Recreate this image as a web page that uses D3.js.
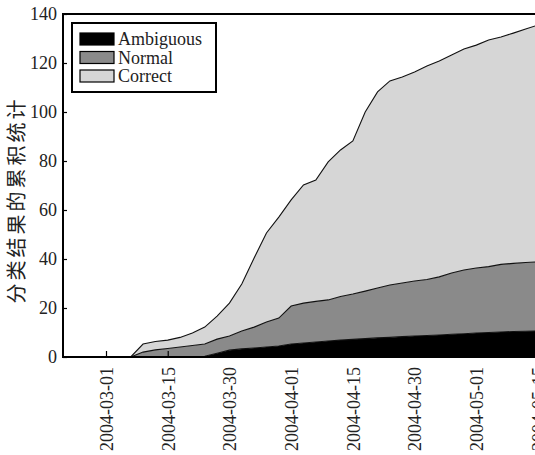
<!DOCTYPE html>
<html>
<head>
<meta charset="utf-8">
<script src="https://cdn.jsdelivr.net/npm/d3@7"></script>
<style>
  body { margin: 0; background: #fff; }
  svg { display: block; }
</style>
</head>
<body>
<svg id="chart" width="535" height="455"></svg>
<script>
// Tick labels along the sample axis (one every five samples)
const tickLabels = ["2004-03-01", "2004-03-15", "2004-03-30", "2004-04-01",
                    "2004-04-15", "2004-04-30", "2004-05-01", "2004-05-15"];
const tickStep = 5;
const yTicks = [0, 20, 40, 60, 80, 100, 120, 140];

// Sample positions (index along the time axis)
const sampleIndex = d3.range(2, 36);

// Cumulative counts per classification result
const ambiguous = [0, 0, 0, 0, 0, 0, 0.3, 1.5, 2.8, 3.3, 3.7, 4.1, 4.5, 5.3, 5.7, 6.1, 6.5,
                   6.9, 7.2, 7.5, 7.8, 8.0, 8.3, 8.6, 8.8, 9.0, 9.3, 9.5, 9.8, 10.0, 10.2,
                   10.4, 10.5, 10.6];
const normal = [0, 2.0, 2.9, 3.5, 4.1, 4.7, 5.0, 5.8, 5.8, 7.3, 8.5, 10.2, 11.4, 15.5, 16.3,
                16.6, 16.8, 17.8, 18.5, 19.4, 20.4, 21.4, 21.9, 22.4, 22.8, 23.7, 25.0, 26.0,
                26.5, 26.9, 27.6, 27.8, 28.1, 28.2];
const correct = [0, 3.3, 3.4, 3.4, 3.9, 5.1, 6.9, 9.4, 13.4, 19.2, 28.2, 36.3, 41.2, 43.3,
                 48.2, 49.5, 56.3, 59.8, 62.5, 73.1, 80.0, 83.3, 84.1, 85.3, 87.2, 88.1, 89.0,
                 90.2, 91.0, 92.5, 92.8, 94.0, 95.3, 96.7];

const seriesNames = ["Ambiguous", "Normal", "Correct"];
const seriesColors = ["#000000", "#8a8a8a", "#d6d6d6"];

const rows = sampleIndex.map((idx, k) => ({
  idx,
  Ambiguous: ambiguous[k],
  Normal: normal[k],
  Correct: correct[k]
}));

const svg = d3.select("#chart");
const plot = { left: 63, top: 14, right: 540, bottom: 357 };

const x = d3.scaleLinear()
  .domain([0, (tickLabels.length - 1) * tickStep])
  .range([106, 538]);
const y = d3.scaleLinear().domain([0, 140]).range([plot.bottom, plot.top]);

svg.append("defs").append("clipPath").attr("id", "plotClip")
  .append("rect")
  .attr("x", plot.left).attr("y", plot.top)
  .attr("width", plot.right - plot.left).attr("height", plot.bottom - plot.top);

const stacked = d3.stack().keys(seriesNames)(rows);

const area = d3.area()
  .x(d => x(d.data.idx))
  .y0(d => y(d[0]))
  .y1(d => y(d[1]));
const topLine = d3.line()
  .x(d => x(d.data.idx))
  .y(d => y(d[1]));

const g = svg.append("g").attr("clip-path", "url(#plotClip)");
g.selectAll("path.area")
  .data(stacked)
  .join("path")
  .attr("class", "area")
  .attr("fill", (d, i) => seriesColors[i])
  .attr("d", area);
g.selectAll("path.edge")
  .data(stacked)
  .join("path")
  .attr("class", "edge")
  .attr("fill", "none")
  .attr("stroke", "#111")
  .attr("stroke-width", 1.1)
  .attr("d", topLine);

// Axes with inward ticks
const fontFamily = "'Liberation Serif', 'Times New Roman', serif";

const yAxis = svg.append("g")
  .attr("transform", `translate(${plot.left},0)`)
  .call(d3.axisRight(y).tickValues(yTicks).tickSize(4).tickFormat(d3.format("d")));
yAxis.select(".domain").remove();
yAxis.selectAll(".tick line").attr("stroke", "#000").attr("stroke-width", 1.2);
yAxis.selectAll(".tick text")
  .attr("x", -6)
  .attr("text-anchor", "end")
  .attr("font-family", fontFamily)
  .attr("font-size", 18)
  .attr("fill", "#222");

const xAxis = svg.append("g")
  .attr("transform", `translate(0,${plot.bottom})`)
  .call(d3.axisTop(x)
    .tickValues(tickLabels.map((_, i) => i * tickStep))
    .tickSize(6)
    .tickFormat((d, i) => tickLabels[i]));
xAxis.select(".domain").remove();
xAxis.selectAll(".tick line").attr("stroke", "#000").attr("stroke-width", 1.2);
xAxis.selectAll(".tick text")
  .attr("font-family", fontFamily)
  .attr("font-size", 18)
  .attr("fill", "#222")
  .attr("text-anchor", "end")
  .attr("dy", "0.35em")
  .attr("transform", "translate(0,10) rotate(-90)")
  .attr("x", 0)
  .attr("y", 0);

// Plot frame
svg.append("path")
  .attr("d", `M${plot.right},${plot.top}H${plot.left}V${plot.bottom}H${plot.right}`)
  .attr("fill", "none")
  .attr("stroke", "#000")
  .attr("stroke-width", 2);

// Y axis title
svg.append("text")
  .attr("transform", `translate(24,200) rotate(-90)`)
  .attr("text-anchor", "middle")
  .attr("font-family", "'Noto Sans CJK SC', sans-serif")
  .attr("font-size", 20)
  .attr("letter-spacing", 3)
  .attr("fill", "#222")
  .text("分类结果的累积统计");

// Legend
const legend = svg.append("g");
legend.append("rect")
  .attr("x", 72).attr("y", 23).attr("width", 144).attr("height", 69)
  .attr("fill", "#fff").attr("stroke", "#000").attr("stroke-width", 2);
const legendRows = seriesNames.map((name, i) => ({ name, color: seriesColors[i], row: i }));
const item = legend.selectAll("g.item")
  .data(legendRows)
  .join("g")
  .attr("class", "item")
  .attr("transform", d => `translate(80,${33 + d.row * 18.5})`);
item.append("rect")
  .attr("width", 34).attr("height", 12)
  .attr("fill", d => d.color)
  .attr("stroke", "#000").attr("stroke-width", 1.2);
item.append("text")
  .attr("x", 38).attr("y", 12)
  .attr("font-family", fontFamily)
  .attr("font-size", 18)
  .attr("fill", "#222")
  .text(d => d.name);
</script>
</body>
</html>
